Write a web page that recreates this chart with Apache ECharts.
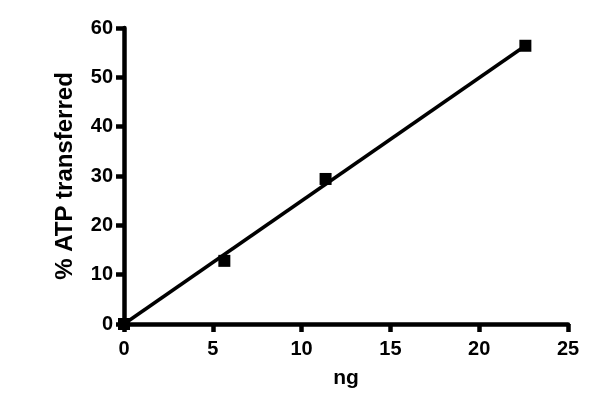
<!DOCTYPE html>
<html>
<head>
    <meta charset="UTF-8">
    <title>% ATP transferred vs ng</title>
    <script src="https://cdn.jsdelivr.net/npm/echarts@6/dist/echarts.min.js"></script>
    <style>
        html, body { margin: 0; padding: 0; background: #fff; }
    </style>
</head>
<body>
    <div id="main" style="width: 600px; height: 416px;"></div>
    <script>
        // measured points
        var ngValues = [0, 5.65, 11.35, 22.6];
        var atpValues = [0, 12.8, 29.4, 56.4];
        // fitted line ends
        var fitX = [0, 22.6];
        var fitY = [0, 56.4];
        var xTicks = [0, 5, 10, 15, 20, 25];
        var yTicks = [0, 10, 20, 30, 40, 50, 60];

        function pairs(xs, ys) {
            var out = [];
            for (var i = 0; i < xs.length; i++) out.push([xs[i], ys[i]]);
            return out;
        }

        var font = 'Liberation Sans, Arial, Helvetica, sans-serif';
        var myChart = echarts.init(document.getElementById('main'));
        var option = {
            backgroundColor: '#fff',
            animation: false,
            grid: { left: 124, right: 32, top: 28, bottom: 92 },
            xAxis: {
                type: 'value',
                min: xTicks[0],
                max: xTicks[xTicks.length - 1],
                interval: 5,
                name: 'ng',
                nameLocation: 'middle',
                nameGap: 44,
                nameTextStyle: { color: '#000', fontSize: 21, fontWeight: 'bold', fontFamily: font },
                axisLine: { lineStyle: { color: '#000', width: 4.5 } },
                axisTick: { length: 8, lineStyle: { color: '#000', width: 4.5 } },
                axisLabel: { color: '#000', fontSize: 20, fontWeight: 'bold', margin: 15, fontFamily: font },
                splitLine: { show: false }
            },
            yAxis: {
                type: 'value',
                min: yTicks[0],
                max: yTicks[yTicks.length - 1],
                interval: 10,
                name: '% ATP transferred',
                nameLocation: 'middle',
                nameGap: 47,
                nameTextStyle: { color: '#000', fontSize: 24, fontWeight: 'bold', fontFamily: font },
                axisLine: { show: true, lineStyle: { color: '#000', width: 4.5 } },
                axisTick: { show: true, length: 8, lineStyle: { color: '#000', width: 4.5 } },
                axisLabel: { color: '#000', fontSize: 20, fontWeight: 'bold', margin: 11, fontFamily: font },
                splitLine: { show: false }
            },
            series: [
                {
                    type: 'line',
                    data: pairs(fitX, fitY),
                    symbol: 'none',
                    lineStyle: { color: '#000', width: 3.5 },
                    z: 2
                },
                {
                    type: 'scatter',
                    data: pairs(ngValues, atpValues),
                    symbol: 'rect',
                    symbolSize: 12,
                    itemStyle: { color: '#000', opacity: 1 },
                    z: 3
                }
            ]
        };
        myChart.setOption(option);
    </script>
</body>
</html>
